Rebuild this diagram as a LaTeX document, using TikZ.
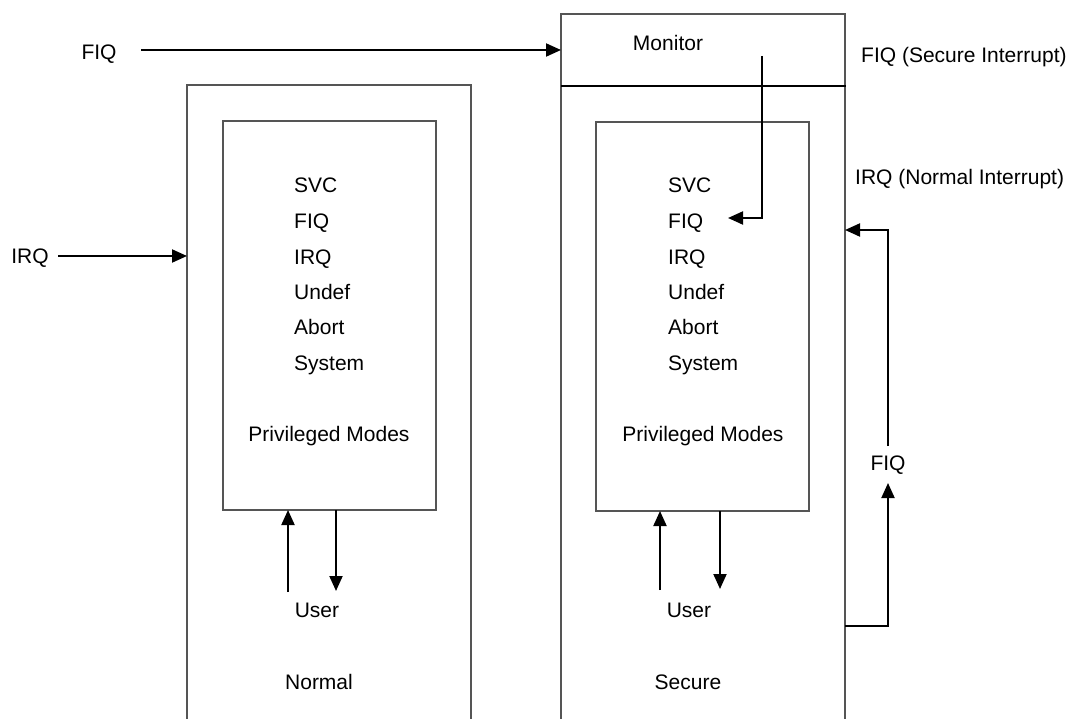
\documentclass[tikz,border=0pt]{standalone}
\usepackage{fontspec}
\setmainfont{Liberation Sans}
\usetikzlibrary{arrows.meta}
\definecolor{boxgray}{HTML}{555555}
\tikzset{
  frame/.style={draw=boxgray, line width=1.5pt},
  conn/.style={draw=black, line width=2pt, -{Triangle[length=15pt,width=13pt]}},
  plain/.style={draw=black, line width=2pt},
  lbl/.style={inner sep=0pt, font=\fontsize{21pt}{25pt}\selectfont},
}
\begin{document}
\begin{tikzpicture}[x=1pt,y=-1pt]
\useasboundingbox (0,0) rectangle (1069,719);
% outer boxes (open at the bottom)
\coordinate (lobl) at (187,719);
\coordinate (lotl) at (187,85);
\coordinate (lotr) at (471,85);
\coordinate (lobr) at (471,719);
\draw[frame] (lobl) -- (lotl) -- (lotr) -- (lobr);
\coordinate (robl) at (561,719);
\coordinate (rotl) at (561,14);
\coordinate (rotr) at (845,14);
\coordinate (robr) at (845,719);
\draw[frame] (robl) -- (rotl) -- (rotr) -- (robr);
\coordinate (divl) at (561,86);
\coordinate (divr) at (846,86);
\draw[plain] (divl) -- (divr);
% inner boxes
\coordinate (litl) at (223,121);
\coordinate (libr) at (436,510);
\draw[frame] (litl) rectangle (libr);
\coordinate (ritl) at (596,122);
\coordinate (ribr) at (809,511);
\draw[frame] (ritl) rectangle (ribr);
% left list
\node[lbl, anchor=base west] (lsvc) at (294,192.5) {SVC};
\node[lbl, anchor=base west] (lfiq) at (294,228.5) {FIQ};
\node[lbl, anchor=base west] (lirq) at (294,264.5) {IRQ};
\node[lbl, anchor=base west] (lund) at (294,299.5) {Undef};
\node[lbl, anchor=base west] (labt) at (294,334.5) {Abort};
\node[lbl, anchor=base west] (lsys) at (294,370.5) {System};
\node[lbl, anchor=base] (lpm) at (329,441.5) {Privileged Modes};
\node[lbl, anchor=base] (luser) at (317,617.5) {User};
\node[lbl, anchor=base] (lnorm) at (319,689.5) {Normal};
% right list
\node[lbl, anchor=base west] (rsvc) at (668,192.5) {SVC};
\node[lbl, anchor=base west] (rfiq) at (668,228.5) {FIQ};
\node[lbl, anchor=base west] (rirq) at (668,264.5) {IRQ};
\node[lbl, anchor=base west] (rund) at (668,299.5) {Undef};
\node[lbl, anchor=base west] (rabt) at (668,334.5) {Abort};
\node[lbl, anchor=base west] (rsys) at (668,370.5) {System};
\node[lbl, anchor=base] (rpm) at (703,441.5) {Privileged Modes};
\node[lbl, anchor=base] (ruser) at (689,617.5) {User};
\node[lbl, anchor=base] (rsec) at (688,689.5) {Secure};
\node[lbl, anchor=base] (mon) at (668,50.5) {Monitor};
% outside labels
\node[lbl, anchor=base] (fiqin) at (99,59.5) {FIQ};
\node[lbl, anchor=base] (irqin) at (30,263.5) {IRQ};
\node[lbl, anchor=base west] (fiqsec) at (861,62.5) {FIQ (Secure Interrupt)};
\node[lbl, anchor=base west] (irqnorm) at (855,184.5) {IRQ (Normal Interrupt)};
\node[lbl, anchor=base] (fiqr) at (888,470.5) {FIQ};
% connectors
\coordinate (fiqs) at (141,50);
\coordinate (fiqe) at (561,50);
\draw[conn] (fiqs) -- (fiqe);
\coordinate (irqs) at (58,256);
\coordinate (irqe) at (187,256);
\draw[conn] (irqs) -- (irqe);
\coordinate (ms) at (762,56);
\coordinate (mc) at (762,218);
\coordinate (me) at (728,218);
\draw[conn] (ms) -- (mc) -- (me);
\coordinate (lus) at (288,592);
\coordinate (lue) at (288,510);
\draw[conn] (lus) -- (lue);
\coordinate (lds) at (336,510);
\coordinate (lde) at (336,591);
\draw[conn] (lds) -- (lde);
\coordinate (rus) at (660,590);
\coordinate (rue) at (660,511);
\draw[conn] (rus) -- (rue);
\coordinate (rds) at (720,511);
\coordinate (rde) at (720,589);
\draw[conn] (rds) -- (rde);
\coordinate (fls) at (845,626);
\coordinate (flc) at (888,626);
\coordinate (fle) at (888,483);
\draw[conn] (fls) -- (flc) -- (fle);
\coordinate (fus) at (888,446);
\coordinate (fuc) at (888,230);
\coordinate (fue) at (845,230);
\draw[conn] (fus) -- (fuc) -- (fue);
\end{tikzpicture}
\end{document}
